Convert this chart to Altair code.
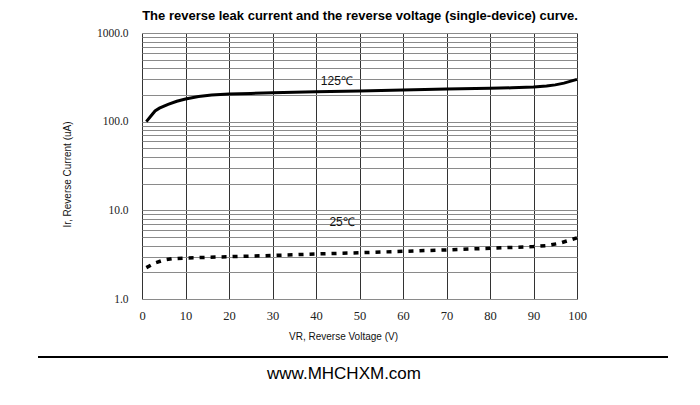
import altair as alt
import pandas as pd

# 125 C curve
v125 = [1, 2, 3, 4, 6, 8, 10, 13, 16, 20, 25, 30, 40, 50, 60, 70, 80, 85, 90, 93, 95, 97, 100]
i125 = [100, 115, 132, 142, 157, 170, 180, 192, 200, 205, 208, 212, 217, 222, 228, 233, 238, 241, 246, 252, 260, 272, 300]
# 25 C curve
v25 = [1, 3, 5, 7, 10, 15, 20, 30, 40, 50, 60, 70, 80, 90, 93, 96, 100]
i25 = [2.26, 2.55, 2.75, 2.85, 2.9, 2.95, 3.0, 3.1, 3.22, 3.32, 3.45, 3.58, 3.73, 3.9, 4.0, 4.25, 4.9]
# curve labels
label_text = ["125℃", "25℃"]
label_v = [44.8, 46.0]
label_i = [288, 7.4]
# ticks
x_ticks = [0, 10, 20, 30, 40, 50, 60, 70, 80, 90, 100]
y_decades = [1, 10, 100, 1000]
y_grid = [m * d for d in [1, 10, 100] for m in range(1, 10)] + [1000]

title_text = "The reverse leak current and the reverse voltage (single-device) curve."
footer_text = "www.MHCHXM.com"

df125 = pd.DataFrame({"v": v125, "i": i125})
df25 = pd.DataFrame({"v": v25, "i": i25})
dflab = pd.DataFrame({"v": label_v, "i": label_i, "t": label_text})

xenc = alt.X(
    "v:Q",
    scale=alt.Scale(domain=[0, 100], nice=False),
    axis=alt.Axis(
        values=x_ticks, title="VR, Reverse Voltage (V)", grid=True, gridColor="#333333",
        gridOpacity=1, ticks=False, domain=False, labelFont="Liberation Serif",
        labelFontSize=12.5, labelPadding=10, labelColor="#222222", labelFlush=False,
        titleFont="Liberation Sans",
        titleFontSize=10, titleFontWeight="normal", titleColor="#111111",
        titleX=201, titleY=32, titleAnchor="middle"
    ),
)
yenc = alt.Y(
    "i:Q",
    scale=alt.Scale(type="log", domain=[1, 1000], nice=False),
    axis=alt.Axis(
        values=y_grid, title="Ir, Reverse Current (uA)", grid=True, gridColor="#8a8a8a",
        gridOpacity=1, ticks=False, domain=False, labelFont="Liberation Serif",
        labelFontSize=11.5, labelPadding=14, labelColor="#222222", labelFlush=False,
        labelExpr="indexof([1, 10, 100, 1000], datum.value) >= 0 ? format(datum.value, '.1f') : ''",
        titleFont="Liberation Sans", titleFontSize=10, titleFontWeight="normal",
        titleColor="#111111", titleX=-70, titleY=141, titleAnchor="middle"
    ),
)

line125 = alt.Chart(df125).mark_line(color="black", strokeWidth=3).encode(x=xenc, y=yenc)
line25 = alt.Chart(df25).mark_line(color="black", strokeWidth=3.5, strokeDash=[5, 6]).encode(
    x="v:Q", y="i:Q"
)
labels = alt.Chart(dflab).mark_text(
    font="Liberation Sans", fontSize=12, color="#111111", baseline="middle", align="center"
).encode(x="v:Q", y="i:Q", text="t:N")

one = pd.DataFrame({"a": [0]})
rule = alt.Chart(one).mark_rule(color="black", strokeWidth=2).encode(
    x=alt.value(-104), x2=alt.value(526), y=alt.value(324)
)
url = alt.Chart(one).mark_text(
    text=footer_text, font="Liberation Sans", fontSize=17, color="black",
    align="center", baseline="middle"
).encode(x=alt.value(202), y=alt.value(341))
title = alt.Chart(one).mark_text(
    text=title_text, font="Liberation Sans", fontSize=13, fontWeight="bold", color="black",
    align="center", baseline="middle"
).encode(x=alt.value(218), y=alt.value(-17))

chart = alt.layer(line125, line25, labels, rule, url, title).properties(
    width=435, height=266,
    autosize=alt.AutoSizeParams(type="none"),
    padding={"left": 134, "top": 25, "right": 100, "bottom": 95},
).configure_view(stroke="black", strokeWidth=1.2).configure(background="white")

chart.save("out.html", embed_options={"renderer": "svg", "actions": False})
